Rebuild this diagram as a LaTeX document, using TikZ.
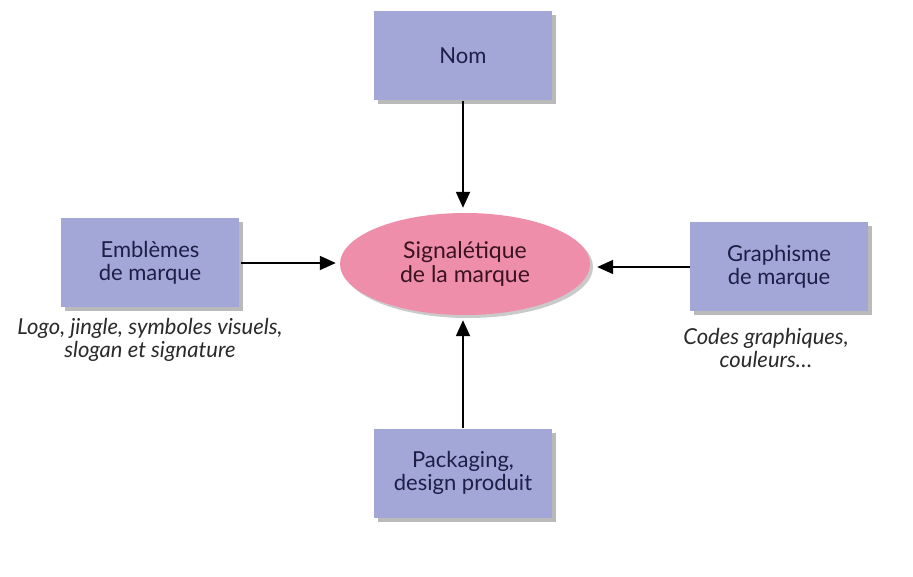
\documentclass[tikz,border=0pt]{standalone}
\usepackage{fontspec}
\setmainfont{Lato}
\usetikzlibrary{arrows.meta,positioning,shapes.geometric,shadows}
\definecolor{ink}{HTML}{1E1E46}
\definecolor{lilac}{HTML}{A2A7D8}
\definecolor{rose}{HTML}{EE8EAA}
\definecolor{wine}{HTML}{3A1222}
\definecolor{note}{HTML}{2A2A2A}
\tikzset{box/.style={fill=lilac,text=ink,align=center,font=\fontsize{22}{23}\selectfont,minimum width=178pt,minimum height=89pt,inner sep=0pt,drop shadow={shadow xshift=4pt,shadow yshift=-4pt,opacity=.45,fill=black!60}}, hub/.style={ellipse,fill=rose,text=wine,align=center,font=\fontsize{23}{24}\selectfont,minimum width=250pt,minimum height=102pt,inner sep=0pt,drop shadow={shadow xshift=3pt,shadow yshift=-3pt,opacity=.35,fill=black!60}}, caption/.style={align=center,text=note,font=\itshape\fontsize{22}{23}\selectfont}, arr/.style={-{Triangle[length=16pt,width=14pt]},line width=1.8pt,draw=black}}

\begin{document}
\begin{tikzpicture}[x=1pt,y=-1pt]
\useasboundingbox (0,0) rectangle (913,577);
\node[hub] (sig) at (465,264){Signalétique\\de la marque};
\node[box] (nom) at (463,56){Nom};
\node[box] (emb) at (150,263){Emblèmes\\de marque};
\node[box] (gra) at (779,267){Graphisme\\de marque};
\node[box] (pack) at (463,473){Packaging,\\design produit};
\node[caption] (cemb) at (150,340){Logo, jingle, symboles visuels,\\slogan et signature};
\node[caption] (cgra) at (766,348){Codes graphiques,\\couleurs…};
\draw[arr,shorten >=5pt] (nom.south) -- (nom.south|-sig.north);
\draw[arr,shorten <=2pt,shorten >=4pt] (emb.east) -- (sig.west|-emb.east);
\draw[arr,shorten >=7pt] (gra.west) -- (sig.east|-gra.west);
\draw[arr,shorten >=5pt] (pack.north) -- (pack.north|-sig.south);
\end{tikzpicture}
\end{document}
